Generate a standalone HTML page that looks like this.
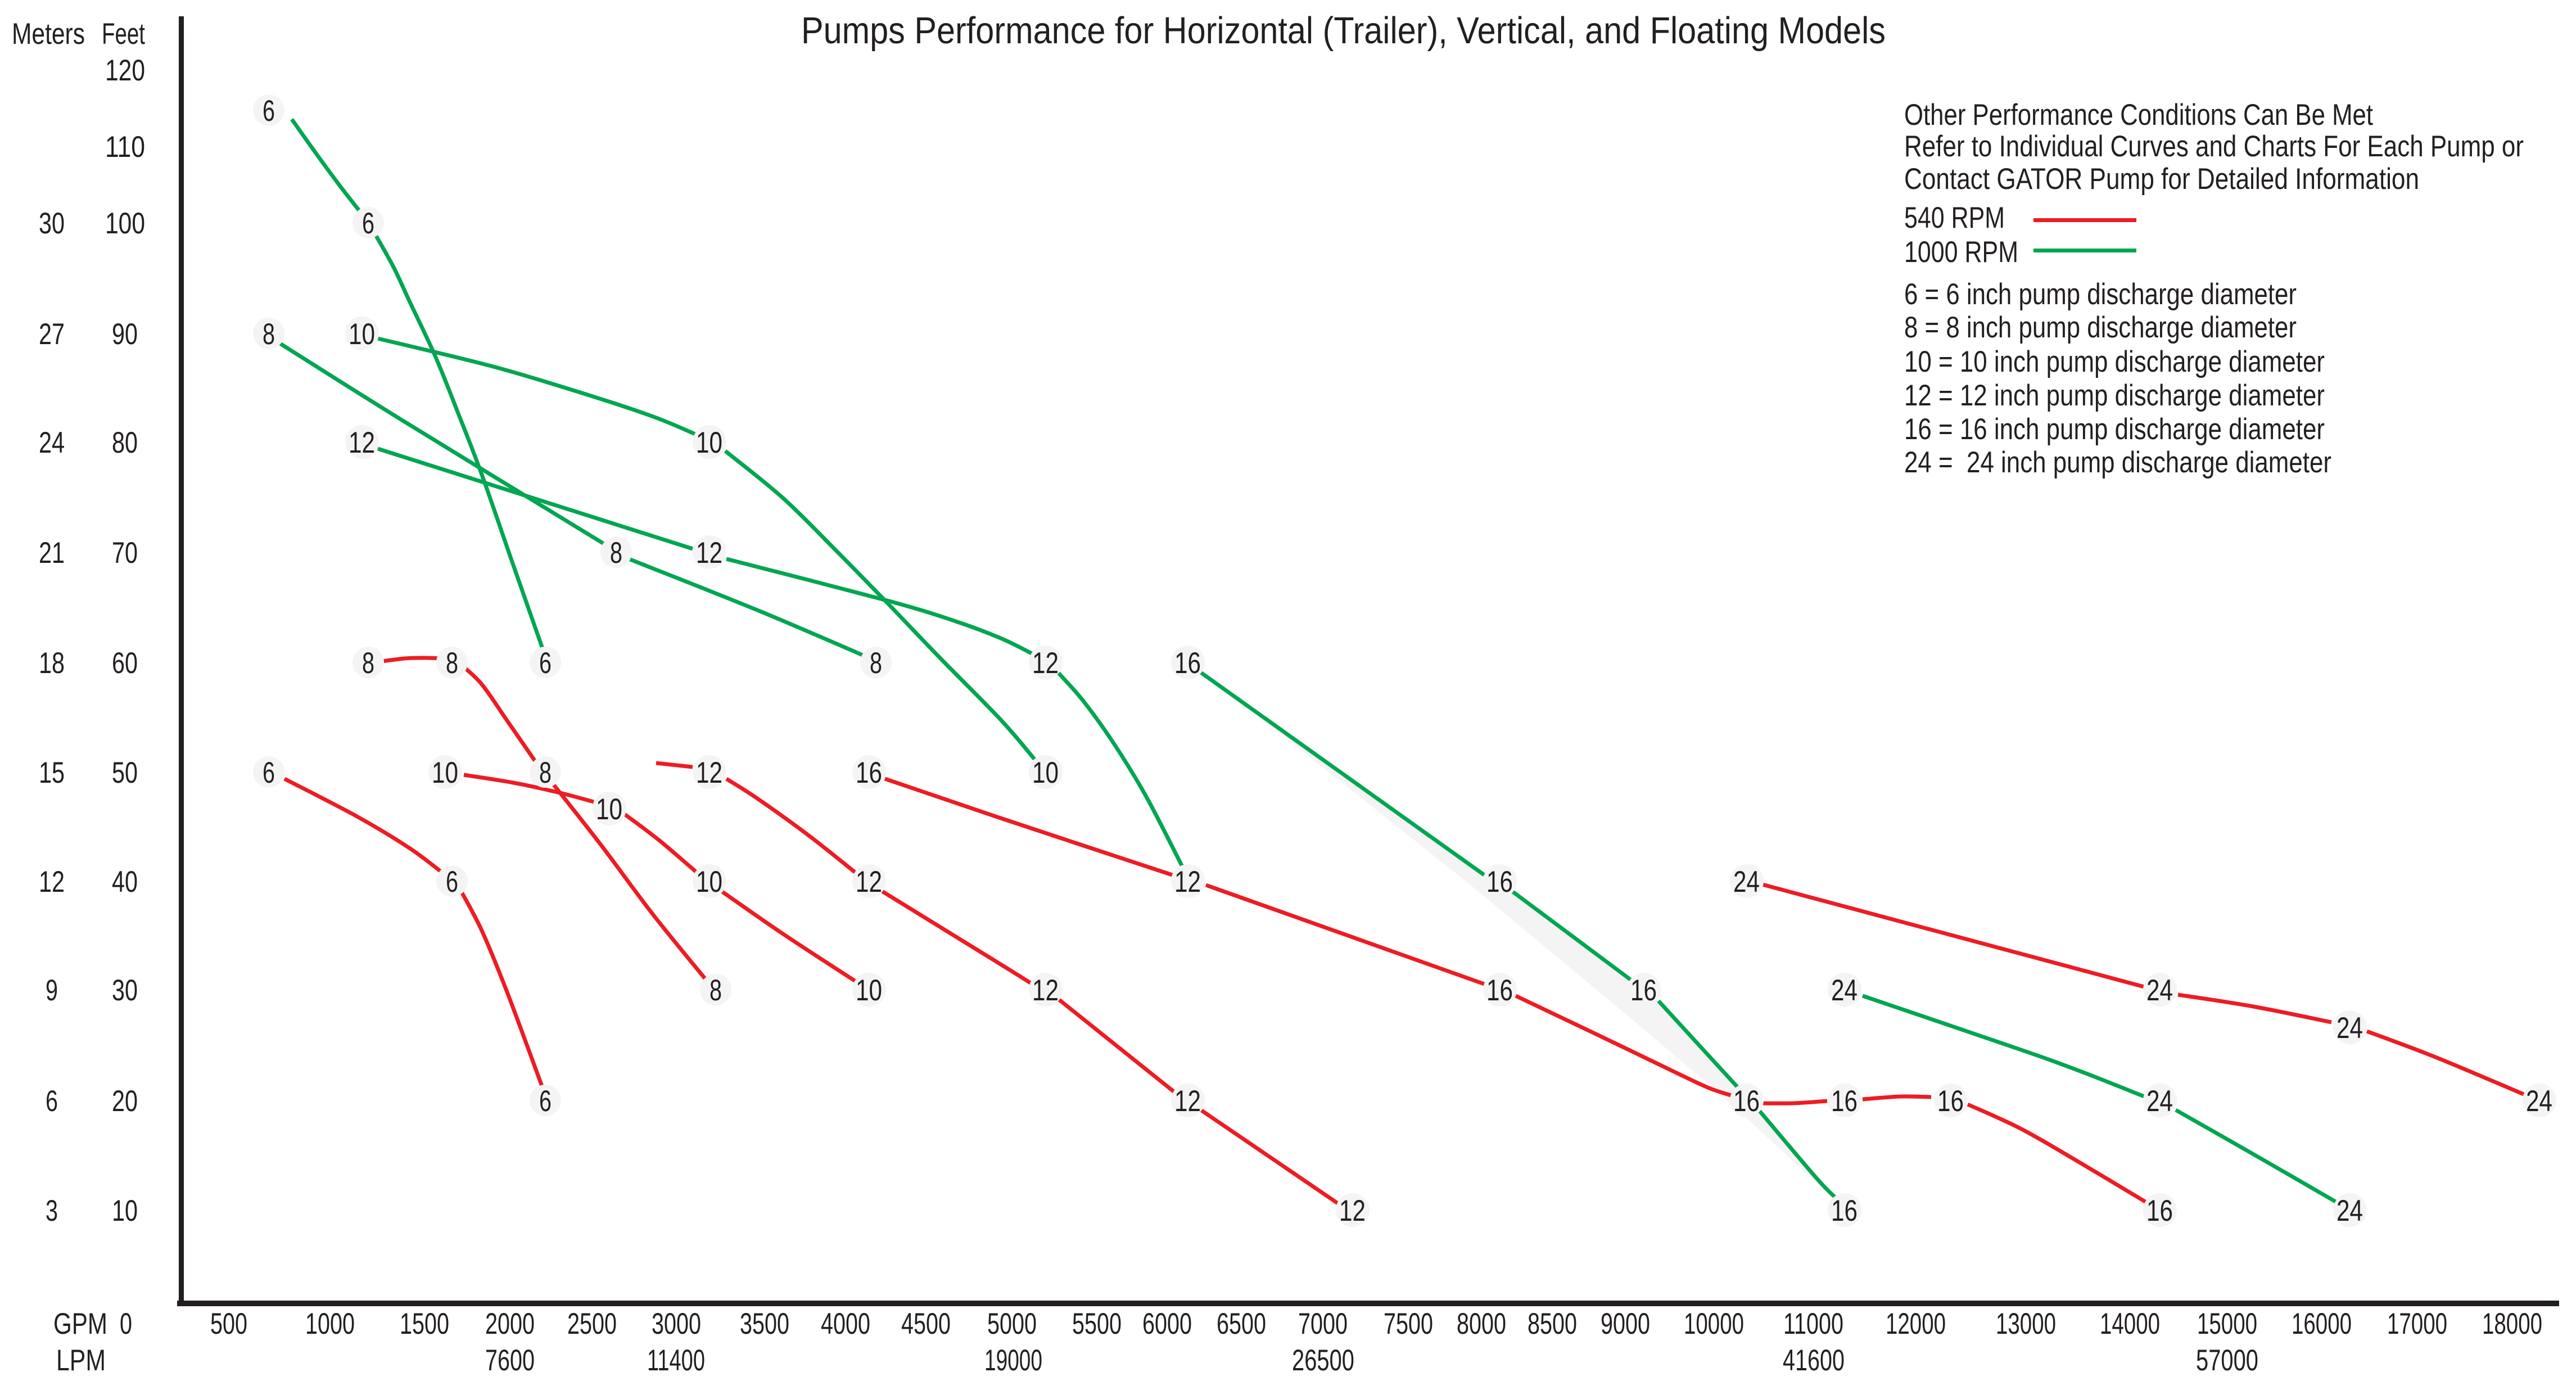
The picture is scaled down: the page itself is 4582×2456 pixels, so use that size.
<!DOCTYPE html>
<html><head><meta charset="utf-8"><style>
html,body{margin:0;padding:0;background:#fff;}
svg{display:block;}
text{font-family:"Liberation Sans",Arial,sans-serif;fill:#231f20;}
.t{font-size:53px;}
.g{fill:none;stroke:#00a651;stroke-width:7;stroke-linecap:butt;stroke-linejoin:round;}
.r{fill:none;stroke:#ed1c24;stroke-width:7;stroke-linecap:butt;stroke-linejoin:round;}
.h{fill:#f4f4f4;}
</style></head><body>
<svg id="chart" width="4582" height="2456" viewBox="0 0 4582 2456" xmlns="http://www.w3.org/2000/svg">
<rect width="4582" height="2456" fill="#fff"/>

<!-- title -->
<text x="1425" y="77" style="font-size:67px" textLength="1929" lengthAdjust="spacingAndGlyphs">Pumps Performance for Horizontal (Trailer), Vertical, and Floating Models</text>

<!-- axes -->
<rect x="318" y="29" width="9" height="2294" fill="#231f20"/>
<rect x="315" y="2313" width="4237" height="10" fill="#231f20"/>

<!-- y axis headers -->
<text class="t" x="21" y="78" textLength="130" lengthAdjust="spacingAndGlyphs">Meters</text>
<text class="t" x="181" y="78" textLength="77" lengthAdjust="spacingAndGlyphs">Feet</text>

<!-- feet labels -->
<g class="t">
<text class="t" x="187" y="143" textLength="71" lengthAdjust="spacingAndGlyphs">120</text>
<text class="t" x="187" y="279" textLength="71" lengthAdjust="spacingAndGlyphs">110</text>
<text class="t" x="187" y="415" textLength="71" lengthAdjust="spacingAndGlyphs">100</text>
<text class="t" x="199" y="612" textLength="46" lengthAdjust="spacingAndGlyphs">90</text>
<text class="t" x="199" y="805" textLength="46" lengthAdjust="spacingAndGlyphs">80</text>
<text class="t" x="199" y="1001" textLength="46" lengthAdjust="spacingAndGlyphs">70</text>
<text class="t" x="199" y="1197" textLength="46" lengthAdjust="spacingAndGlyphs">60</text>
<text class="t" x="199" y="1392" textLength="46" lengthAdjust="spacingAndGlyphs">50</text>
<text class="t" x="199" y="1586" textLength="46" lengthAdjust="spacingAndGlyphs">40</text>
<text class="t" x="199" y="1779" textLength="46" lengthAdjust="spacingAndGlyphs">30</text>
<text class="t" x="199" y="1976" textLength="46" lengthAdjust="spacingAndGlyphs">20</text>
<text class="t" x="199" y="2171" textLength="46" lengthAdjust="spacingAndGlyphs">10</text>
<!-- meters -->
<text class="t" x="69" y="415" textLength="46" lengthAdjust="spacingAndGlyphs">30</text>
<text class="t" x="69" y="612" textLength="46" lengthAdjust="spacingAndGlyphs">27</text>
<text class="t" x="69" y="805" textLength="46" lengthAdjust="spacingAndGlyphs">24</text>
<text class="t" x="69" y="1001" textLength="46" lengthAdjust="spacingAndGlyphs">21</text>
<text class="t" x="69" y="1197" textLength="46" lengthAdjust="spacingAndGlyphs">18</text>
<text class="t" x="69" y="1392" textLength="46" lengthAdjust="spacingAndGlyphs">15</text>
<text class="t" x="69" y="1586" textLength="46" lengthAdjust="spacingAndGlyphs">12</text>
<text class="t" x="81" y="1779" textLength="22" lengthAdjust="spacingAndGlyphs">9</text>
<text class="t" x="81" y="1976" textLength="22" lengthAdjust="spacingAndGlyphs">6</text>
<text class="t" x="81" y="2171" textLength="22" lengthAdjust="spacingAndGlyphs">3</text>
</g>

<!-- x axis labels -->
<text class="t" x="95" y="2372" textLength="96" lengthAdjust="spacingAndGlyphs">GPM</text>
<text class="t" x="213" y="2372" textLength="22" lengthAdjust="spacingAndGlyphs">0</text>
<text class="t" x="100" y="2437" textLength="88" lengthAdjust="spacingAndGlyphs">LPM</text>

<text class="t" x="374" y="2372" textLength="66" lengthAdjust="spacingAndGlyphs">500</text>
<text class="t" x="543" y="2372" textLength="88" lengthAdjust="spacingAndGlyphs">1000</text>
<text class="t" x="711" y="2372" textLength="88" lengthAdjust="spacingAndGlyphs">1500</text>
<text class="t" x="863" y="2372" textLength="88" lengthAdjust="spacingAndGlyphs">2000</text>
<text class="t" x="1009" y="2372" textLength="88" lengthAdjust="spacingAndGlyphs">2500</text>
<text class="t" x="1159" y="2372" textLength="88" lengthAdjust="spacingAndGlyphs">3000</text>
<text class="t" x="1316" y="2372" textLength="88" lengthAdjust="spacingAndGlyphs">3500</text>
<text class="t" x="1460" y="2372" textLength="88" lengthAdjust="spacingAndGlyphs">4000</text>
<text class="t" x="1603" y="2372" textLength="88" lengthAdjust="spacingAndGlyphs">4500</text>
<text class="t" x="1756" y="2372" textLength="88" lengthAdjust="spacingAndGlyphs">5000</text>
<text class="t" x="1907" y="2372" textLength="88" lengthAdjust="spacingAndGlyphs">5500</text>
<text class="t" x="2032" y="2372" textLength="88" lengthAdjust="spacingAndGlyphs">6000</text>
<text class="t" x="2164" y="2372" textLength="88" lengthAdjust="spacingAndGlyphs">6500</text>
<text class="t" x="2309" y="2372" textLength="88" lengthAdjust="spacingAndGlyphs">7000</text>
<text class="t" x="2461" y="2372" textLength="88" lengthAdjust="spacingAndGlyphs">7500</text>
<text class="t" x="2591" y="2372" textLength="88" lengthAdjust="spacingAndGlyphs">8000</text>
<text class="t" x="2717" y="2372" textLength="88" lengthAdjust="spacingAndGlyphs">8500</text>
<text class="t" x="2847" y="2372" textLength="88" lengthAdjust="spacingAndGlyphs">9000</text>
<text class="t" x="2995" y="2372" textLength="107" lengthAdjust="spacingAndGlyphs">10000</text>
<text class="t" x="3172" y="2372" textLength="107" lengthAdjust="spacingAndGlyphs">11000</text>
<text class="t" x="3354" y="2372" textLength="107" lengthAdjust="spacingAndGlyphs">12000</text>
<text class="t" x="3550" y="2372" textLength="107" lengthAdjust="spacingAndGlyphs">13000</text>
<text class="t" x="3735" y="2372" textLength="107" lengthAdjust="spacingAndGlyphs">14000</text>
<text class="t" x="3908" y="2372" textLength="107" lengthAdjust="spacingAndGlyphs">15000</text>
<text class="t" x="4076" y="2372" textLength="107" lengthAdjust="spacingAndGlyphs">16000</text>
<text class="t" x="4246" y="2372" textLength="107" lengthAdjust="spacingAndGlyphs">17000</text>
<text class="t" x="4415" y="2372" textLength="107" lengthAdjust="spacingAndGlyphs">18000</text>

<text class="t" x="863" y="2437" textLength="88" lengthAdjust="spacingAndGlyphs">7600</text>
<text class="t" x="1151" y="2437" textLength="103" lengthAdjust="spacingAndGlyphs">11400</text>
<text class="t" x="1751" y="2437" textLength="103" lengthAdjust="spacingAndGlyphs">19000</text>
<text class="t" x="2298" y="2437" textLength="111" lengthAdjust="spacingAndGlyphs">26500</text>
<text class="t" x="3171" y="2437" textLength="110" lengthAdjust="spacingAndGlyphs">41600</text>
<text class="t" x="3906" y="2437" textLength="111" lengthAdjust="spacingAndGlyphs">57000</text>

<!-- legend -->
<text class="t" x="3387" y="222" textLength="834" lengthAdjust="spacingAndGlyphs">Other Performance Conditions Can Be Met</text>
<text class="t" x="3387" y="278" textLength="1102" lengthAdjust="spacingAndGlyphs">Refer to Individual Curves and Charts For Each Pump or</text>
<text class="t" x="3387" y="336" textLength="916" lengthAdjust="spacingAndGlyphs">Contact GATOR Pump for Detailed Information</text>
<text class="t" x="3387" y="405" textLength="179" lengthAdjust="spacingAndGlyphs">540 RPM</text>
<rect x="3617" y="388" width="183" height="7" fill="#ed1c24"/>
<text class="t" x="3387" y="466" textLength="203" lengthAdjust="spacingAndGlyphs">1000 RPM</text>
<rect x="3617" y="442" width="183" height="7" fill="#00a651"/>
<text class="t" x="3387" y="541" textLength="698" lengthAdjust="spacingAndGlyphs">6 = 6 inch pump discharge diameter</text>
<text class="t" x="3387" y="600" textLength="698" lengthAdjust="spacingAndGlyphs">8 = 8 inch pump discharge diameter</text>
<text class="t" x="3387" y="661" textLength="748" lengthAdjust="spacingAndGlyphs">10 = 10 inch pump discharge diameter</text>
<text class="t" x="3387" y="721" textLength="748" lengthAdjust="spacingAndGlyphs">12 = 12 inch pump discharge diameter</text>
<text class="t" x="3387" y="781" textLength="748" lengthAdjust="spacingAndGlyphs">16 = 16 inch pump discharge diameter</text>
<text class="t" x="3387" y="840" textLength="760" lengthAdjust="spacingAndGlyphs" xml:space="preserve">24 =  24 inch pump discharge diameter</text>

<!-- shaded wedge -->
<polygon fill="#f4f4f4" points="2224,1262 2640,1556 2691,1586 2904,1745 2950,1780 3093,1936 3130,1976 3230,2094 3265,2135 3130,2010 3065,1950 2890,1802 2612,1571"/>

<!-- green curves (1000 RPM) -->
<polyline class="g" points="519,212 563,274 605,331 644,381"/>
<polyline class="g" points="667,416 700,475 728,535 774,633 815,735 857,844 913,1005 966,1156"/>
<polyline class="g" points="492,607 718,749 1084,973"/>
<polyline class="g" points="1111,991 1347,1085 1546,1170"/>
<polyline class="g" points="672,602 885,654 1070,710 1170,744 1241,774"/>
<polyline class="g" points="1290,802 1393,886 1490,982 1578,1072 1670,1168 1780,1280 1840,1350"/>
<polyline class="g" points="672,798 1232,976"/>
<polyline class="g" points="1292,994 1578,1068 1700,1105 1780,1135 1835,1162"/>
<polyline class="g" points="1882,1196 1928,1248 1983,1325 2039,1417 2104,1543"/>
<polyline class="g" points="2136,1196 2640,1556"/>
<polyline class="g" points="2691,1586 2904,1745"/>
<polyline class="g" points="2950,1780 3093,1936"/>
<polyline class="g" points="3130,1976 3230,2094 3267,2132"/>
<polyline class="g" points="3313,1771 3592,1866 3700,1905 3814,1950"/>
<polyline class="g" points="3870,1974 4000,2048 4156,2138"/>

<!-- red curves (540 RPM) -->
<polyline class="r" points="506,1385 635,1452 728,1508 792,1556"/>
<polyline class="r" points="818,1581 857,1655 903,1767 966,1937"/>
<polyline class="r" points="672,1177 720,1171 755,1170 788,1171"/>
<polyline class="r" points="820,1182 857,1217 903,1283 959,1364"/>
<polyline class="r" points="982,1392 1070,1504 1162,1627 1262,1750"/>
<polyline class="r" points="825,1378 913,1392 996,1410 1056,1426"/>
<polyline class="r" points="1111,1448 1172,1494 1241,1553"/>
<polyline class="r" points="1282,1584 1393,1661 1523,1746"/>
<polyline class="r" points="1167,1357 1232,1364"/>
<polyline class="r" points="1292,1385 1347,1420 1440,1487 1523,1553"/>
<polyline class="r" points="1569,1585 1780,1715 1836,1750"/>
<polyline class="r" points="1884,1778 2090,1943"/>
<polyline class="r" points="2136,1974 2381,2141"/>
<polyline class="r" points="1574,1385 1780,1455 2085,1556"/>
<polyline class="r" points="2145,1574 2640,1750"/>
<polyline class="r" points="2696,1771 2843,1841 2982,1908 3040,1935 3079,1948"/>
<polyline class="r" points="3130,1962 3190,1962 3250,1958"/>
<polyline class="r" points="3313,1955 3380,1950 3435,1951"/>
<polyline class="r" points="3500,1964 3592,2006 3685,2059 3819,2139"/>
<polyline class="r" points="3135,1573 3814,1755"/>
<polyline class="r" points="3874,1769 4008,1790 4147,1818"/>
<polyline class="r" points="4210,1834 4332,1880 4489,1946"/>

<!-- label halos -->
<g class="h">
<circle cx="478" cy="196" r="28"/><circle cx="655" cy="396" r="28"/><circle cx="970" cy="1178" r="28"/>
<circle cx="478" cy="593" r="28"/><circle cx="1096" cy="982" r="28"/><circle cx="1558" cy="1178" r="28"/>
<circle cx="644" cy="593" r="30"/><circle cx="1262" cy="786" r="30"/><circle cx="1860" cy="1373" r="30"/>
<circle cx="644" cy="786" r="30"/><circle cx="1262" cy="982" r="30"/><circle cx="1860" cy="1178" r="30"/>
<circle cx="2113" cy="1178" r="30"/><circle cx="2668" cy="1567" r="30"/><circle cx="2924" cy="1760" r="30"/>
<circle cx="3107" cy="1957" r="30"/><circle cx="3281" cy="2152" r="30"/>
<circle cx="3281" cy="1760" r="30"/><circle cx="3842" cy="1957" r="30"/><circle cx="4180" cy="2152" r="30"/>
<circle cx="655" cy="1178" r="28"/><circle cx="804" cy="1178" r="28"/><circle cx="970" cy="1373" r="28"/><circle cx="1273" cy="1760" r="28"/>
<circle cx="478" cy="1373" r="28"/><circle cx="804" cy="1567" r="28"/><circle cx="970" cy="1957" r="28"/>
<circle cx="792" cy="1373" r="30"/><circle cx="1084" cy="1438" r="30"/><circle cx="1262" cy="1567" r="30"/><circle cx="1546" cy="1760" r="30"/>
<circle cx="1262" cy="1373" r="30"/><circle cx="1546" cy="1567" r="30"/><circle cx="1860" cy="1760" r="30"/>
<circle cx="2113" cy="1567" r="30"/><circle cx="2113" cy="1957" r="30"/><circle cx="2406" cy="2152" r="30"/>
<circle cx="1546" cy="1373" r="30"/><circle cx="2668" cy="1760" r="30"/><circle cx="3281" cy="1957" r="30"/>
<circle cx="3470" cy="1957" r="30"/><circle cx="3842" cy="2152" r="30"/>
<circle cx="3107" cy="1567" r="30"/><circle cx="3842" cy="1760" r="30"/><circle cx="4180" cy="1827" r="30"/><circle cx="4517" cy="1957" r="30"/>
</g>

<!-- curve labels -->
<g>
<text class="t" x="467" y="215" textLength="22" lengthAdjust="spacingAndGlyphs">6</text>
<text class="t" x="644" y="415" textLength="22" lengthAdjust="spacingAndGlyphs">6</text>
<text class="t" x="959" y="1197" textLength="22" lengthAdjust="spacingAndGlyphs">6</text>
<text class="t" x="467" y="612" textLength="22" lengthAdjust="spacingAndGlyphs">8</text>
<text class="t" x="1085" y="1001" textLength="22" lengthAdjust="spacingAndGlyphs">8</text>
<text class="t" x="1547" y="1197" textLength="22" lengthAdjust="spacingAndGlyphs">8</text>
<text class="t" x="620" y="612" textLength="47" lengthAdjust="spacingAndGlyphs">10</text>
<text class="t" x="1238" y="805" textLength="47" lengthAdjust="spacingAndGlyphs">10</text>
<text class="t" x="1836" y="1392" textLength="47" lengthAdjust="spacingAndGlyphs">10</text>
<text class="t" x="620" y="805" textLength="47" lengthAdjust="spacingAndGlyphs">12</text>
<text class="t" x="1238" y="1001" textLength="47" lengthAdjust="spacingAndGlyphs">12</text>
<text class="t" x="1836" y="1197" textLength="47" lengthAdjust="spacingAndGlyphs">12</text>
<text class="t" x="2089" y="1197" textLength="47" lengthAdjust="spacingAndGlyphs">16</text>
<text class="t" x="2644" y="1586" textLength="47" lengthAdjust="spacingAndGlyphs">16</text>
<text class="t" x="2900" y="1779" textLength="47" lengthAdjust="spacingAndGlyphs">16</text>
<text class="t" x="3083" y="1976" textLength="47" lengthAdjust="spacingAndGlyphs">16</text>
<text class="t" x="3257" y="2171" textLength="47" lengthAdjust="spacingAndGlyphs">16</text>
<text class="t" x="3257" y="1779" textLength="47" lengthAdjust="spacingAndGlyphs">24</text>
<text class="t" x="3818" y="1976" textLength="47" lengthAdjust="spacingAndGlyphs">24</text>
<text class="t" x="4156" y="2171" textLength="47" lengthAdjust="spacingAndGlyphs">24</text>

<text class="t" x="644" y="1197" textLength="22" lengthAdjust="spacingAndGlyphs">8</text>
<text class="t" x="793" y="1197" textLength="22" lengthAdjust="spacingAndGlyphs">8</text>
<text class="t" x="959" y="1392" textLength="22" lengthAdjust="spacingAndGlyphs">8</text>
<text class="t" x="1262" y="1779" textLength="22" lengthAdjust="spacingAndGlyphs">8</text>
<text class="t" x="467" y="1392" textLength="22" lengthAdjust="spacingAndGlyphs">6</text>
<text class="t" x="793" y="1586" textLength="22" lengthAdjust="spacingAndGlyphs">6</text>
<text class="t" x="959" y="1976" textLength="22" lengthAdjust="spacingAndGlyphs">6</text>
<text class="t" x="768" y="1392" textLength="47" lengthAdjust="spacingAndGlyphs">10</text>
<text class="t" x="1060" y="1457" textLength="47" lengthAdjust="spacingAndGlyphs">10</text>
<text class="t" x="1238" y="1586" textLength="47" lengthAdjust="spacingAndGlyphs">10</text>
<text class="t" x="1522" y="1779" textLength="47" lengthAdjust="spacingAndGlyphs">10</text>
<text class="t" x="1238" y="1392" textLength="47" lengthAdjust="spacingAndGlyphs">12</text>
<text class="t" x="1522" y="1586" textLength="47" lengthAdjust="spacingAndGlyphs">12</text>
<text class="t" x="1836" y="1779" textLength="47" lengthAdjust="spacingAndGlyphs">12</text>
<text class="t" x="2089" y="1586" textLength="47" lengthAdjust="spacingAndGlyphs">12</text>
<text class="t" x="2089" y="1976" textLength="47" lengthAdjust="spacingAndGlyphs">12</text>
<text class="t" x="2382" y="2171" textLength="47" lengthAdjust="spacingAndGlyphs">12</text>
<text class="t" x="1522" y="1392" textLength="47" lengthAdjust="spacingAndGlyphs">16</text>
<text class="t" x="2644" y="1779" textLength="47" lengthAdjust="spacingAndGlyphs">16</text>
<text class="t" x="3257" y="1976" textLength="47" lengthAdjust="spacingAndGlyphs">16</text>
<text class="t" x="3446" y="1976" textLength="47" lengthAdjust="spacingAndGlyphs">16</text>
<text class="t" x="3818" y="2171" textLength="47" lengthAdjust="spacingAndGlyphs">16</text>
<text class="t" x="3083" y="1586" textLength="47" lengthAdjust="spacingAndGlyphs">24</text>
<text class="t" x="3818" y="1779" textLength="47" lengthAdjust="spacingAndGlyphs">24</text>
<text class="t" x="4156" y="1846" textLength="47" lengthAdjust="spacingAndGlyphs">24</text>
<text class="t" x="4493" y="1976" textLength="47" lengthAdjust="spacingAndGlyphs">24</text>
</g>
</svg>
<script>
(function(){
  var NS="http://www.w3.org/2000/svg";
  var pls=document.querySelectorAll("polyline.g, polyline.r");
  for(var k=0;k<pls.length;k++){
    var pl=pls[k];
    var n=pl.getAttribute("points").trim().split(/[\s,]+/).map(Number);
    var p=[];
    for(var i=0;i<n.length;i+=2)p.push([n[i],n[i+1]]);
    if(p.length<3)continue;
    var d="M"+p[0][0]+","+p[0][1];
    for(var i=0;i<p.length-1;i++){
      var p0=p[i-1]||p[i],p1=p[i],p2=p[i+1],p3=p[i+2]||p[i+1];
      var c1x=p1[0]+(p2[0]-p0[0])/6,c1y=p1[1]+(p2[1]-p0[1])/6;
      var c2x=p2[0]-(p3[0]-p1[0])/6,c2y=p2[1]-(p3[1]-p1[1])/6;
      d+=" C"+c1x.toFixed(1)+","+c1y.toFixed(1)+" "+c2x.toFixed(1)+","+c2y.toFixed(1)+" "+p2[0]+","+p2[1];
    }
    var path=document.createElementNS(NS,"path");
    path.setAttribute("d",d);
    path.setAttribute("class",pl.getAttribute("class"));
    pl.parentNode.replaceChild(path,pl);
  }
})();
</script>
</body></html>
